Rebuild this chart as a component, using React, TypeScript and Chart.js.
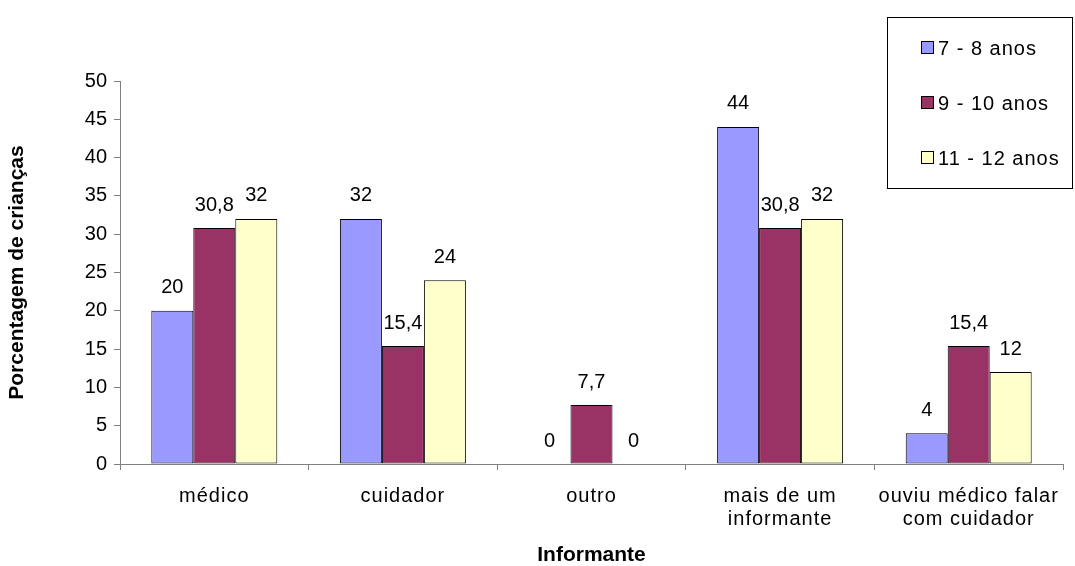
import React, { useEffect, useRef } from "react";
import { Chart, registerables } from "chart.js";

Chart.register(...registerables);

const categories: (string | string[])[] = [
  "médico",
  "cuidador",
  "outro",
  ["mais de um", "informante"],
  ["ouviu médico falar", "com cuidador"],
];
const seriesLabels = ["7 - 8 anos", "9 - 10 anos", "11 - 12 anos"];
const values7a8 = [20, 32, 0, 44, 4];
const values9a10 = [30.8, 15.4, 7.7, 30.8, 15.4];
const values11a12 = [32, 24, 0, 32, 12];
const yMin = 0;
const yMax = 50;
const yStep = 5;
const xTitle = "Informante";
const yTitle = "Porcentagem de crianças";

const FONT = '"Liberation Sans", Arial, sans-serif';
const colors = ["#9999FF", "#993366", "#FFFFCC"];

const spacedXLabelsPlugin = {
  id: "spacedXLabels",
  beforeDraw(chart: any) {
    const sx = chart.scales.x;
    if (sx && !sx.__spaced) {
      const orig = sx.drawLabels;
      sx.drawLabels = function (area: any) {
        const c = this.ctx;
        const prev = c.letterSpacing;
        c.letterSpacing = "1px";
        orig.call(this, area);
        c.letterSpacing = prev || "0px";
      };
      sx.__spaced = true;
    }
  },
};

const dataLabelPlugin = {
  id: "dataLabels",
  afterDatasetsDraw(chart: any) {
    const ctx = chart.ctx;
    ctx.save();
    ctx.font = `20px ${FONT}`;
    ctx.fillStyle = "#000";
    ctx.textAlign = "center";
    ctx.textBaseline = "middle";
    chart.data.datasets.forEach((ds: any, i: number) => {
      const meta = chart.getDatasetMeta(i);
      meta.data.forEach((el: any, j: number) => {
        const v = ds.data[j];
        ctx.fillText(String(v).replace(".", ","), el.x, el.y - 23);
      });
    });
    ctx.restore();
  },
};

const boxLegendPlugin = {
  id: "boxLegend",
  afterDraw(chart: any) {
    const ctx = chart.ctx;
    ctx.save();
    ctx.strokeStyle = "#000";
    ctx.lineWidth = 1;
    ctx.fillStyle = "#fff";
    ctx.fillRect(887.5, 17.5, 185, 171);
    ctx.strokeRect(887.5, 17.5, 185, 171);
    ctx.font = `20px ${FONT}`;
    ctx.letterSpacing = "1px";
    ctx.textAlign = "left";
    ctx.textBaseline = "middle";
    const rows = [48, 103, 158];
    chart.data.datasets.forEach((ds: any, i: number) => {
      const y = rows[i];
      ctx.fillStyle = ds.backgroundColor;
      ctx.fillRect(921.5, y - 6.5, 12, 12);
      ctx.strokeStyle = "#000";
      ctx.strokeRect(921.5, y - 6.5, 12, 12);
      ctx.fillStyle = "#000";
      ctx.fillText(ds.label, 938, y + 1);
    });
    ctx.letterSpacing = "0px";
    ctx.restore();
  },
};

export default function App() {
  const ref = useRef<HTMLCanvasElement | null>(null);

  useEffect(() => {
    if (!ref.current) return;
    const seriesValues = [values7a8, values9a10, values11a12];
    const chart = new Chart(ref.current, {
      type: "bar",
      data: {
        labels: categories as any,
        datasets: seriesLabels.map((label, i) => ({
          label,
          data: seriesValues[i],
          backgroundColor: colors[i],
          borderColor: "#000",
          borderWidth: 1,
          borderSkipped: false,
          categoryPercentage: 0.668,
          barPercentage: 1.0,
        })),
      },
      options: {
        responsive: false,
        animation: false,
        devicePixelRatio: 1,
        layout: { padding: { top: 81, right: 12, left: 0, bottom: 0 } },
        plugins: {
          legend: { display: false },
          tooltip: { enabled: false },
          title: { display: false },
        },
        scales: {
          x: {
            grid: {
              display: true,
              drawOnChartArea: false,
              drawTicks: true,
              tickLength: 6,
              color: "#808080",
              offset: true,
            },
            border: { color: "#808080", width: 1 },
            ticks: {
              font: { family: FONT, size: 20, lineHeight: 1.15 },
              color: "#000",
              padding: 15,
              maxRotation: 0,
              autoSkip: false,
            },
            title: {
              display: true,
              text: xTitle,
              color: "#000",
              font: { family: FONT, size: 21, weight: "bold", lineHeight: 1.0 },
              padding: { top: 0, bottom: 0 },
            },
            afterFit: (s: any) => {
              s.height = 102;
            },
          },
          y: {
            min: yMin,
            max: yMax,
            grid: {
              display: true,
              drawOnChartArea: false,
              drawTicks: true,
              tickLength: 6,
              color: "#808080",
            },
            border: { color: "#808080", width: 1 },
            ticks: {
              stepSize: yStep,
              font: { family: FONT, size: 20 },
              color: "#000",
              padding: 7,
            },
            title: {
              display: true,
              text: yTitle,
              color: "#000",
              font: { family: FONT, size: 21, weight: "bold", lineHeight: 1.0 },
              padding: { top: 7, bottom: 0 },
            },
            afterFit: (s: any) => {
              s.width = 120;
            },
          },
        },
      },
      plugins: [spacedXLabelsPlugin, dataLabelPlugin, boxLegendPlugin],
    });
    return () => chart.destroy();
  }, []);

  return (
    <div style={{ position: "absolute", left: 0, top: 0, width: 1075, height: 566, background: "#fff" }}>
      <canvas ref={ref} width={1075} height={566} style={{ width: 1075, height: 566 }} />
    </div>
  );
}
